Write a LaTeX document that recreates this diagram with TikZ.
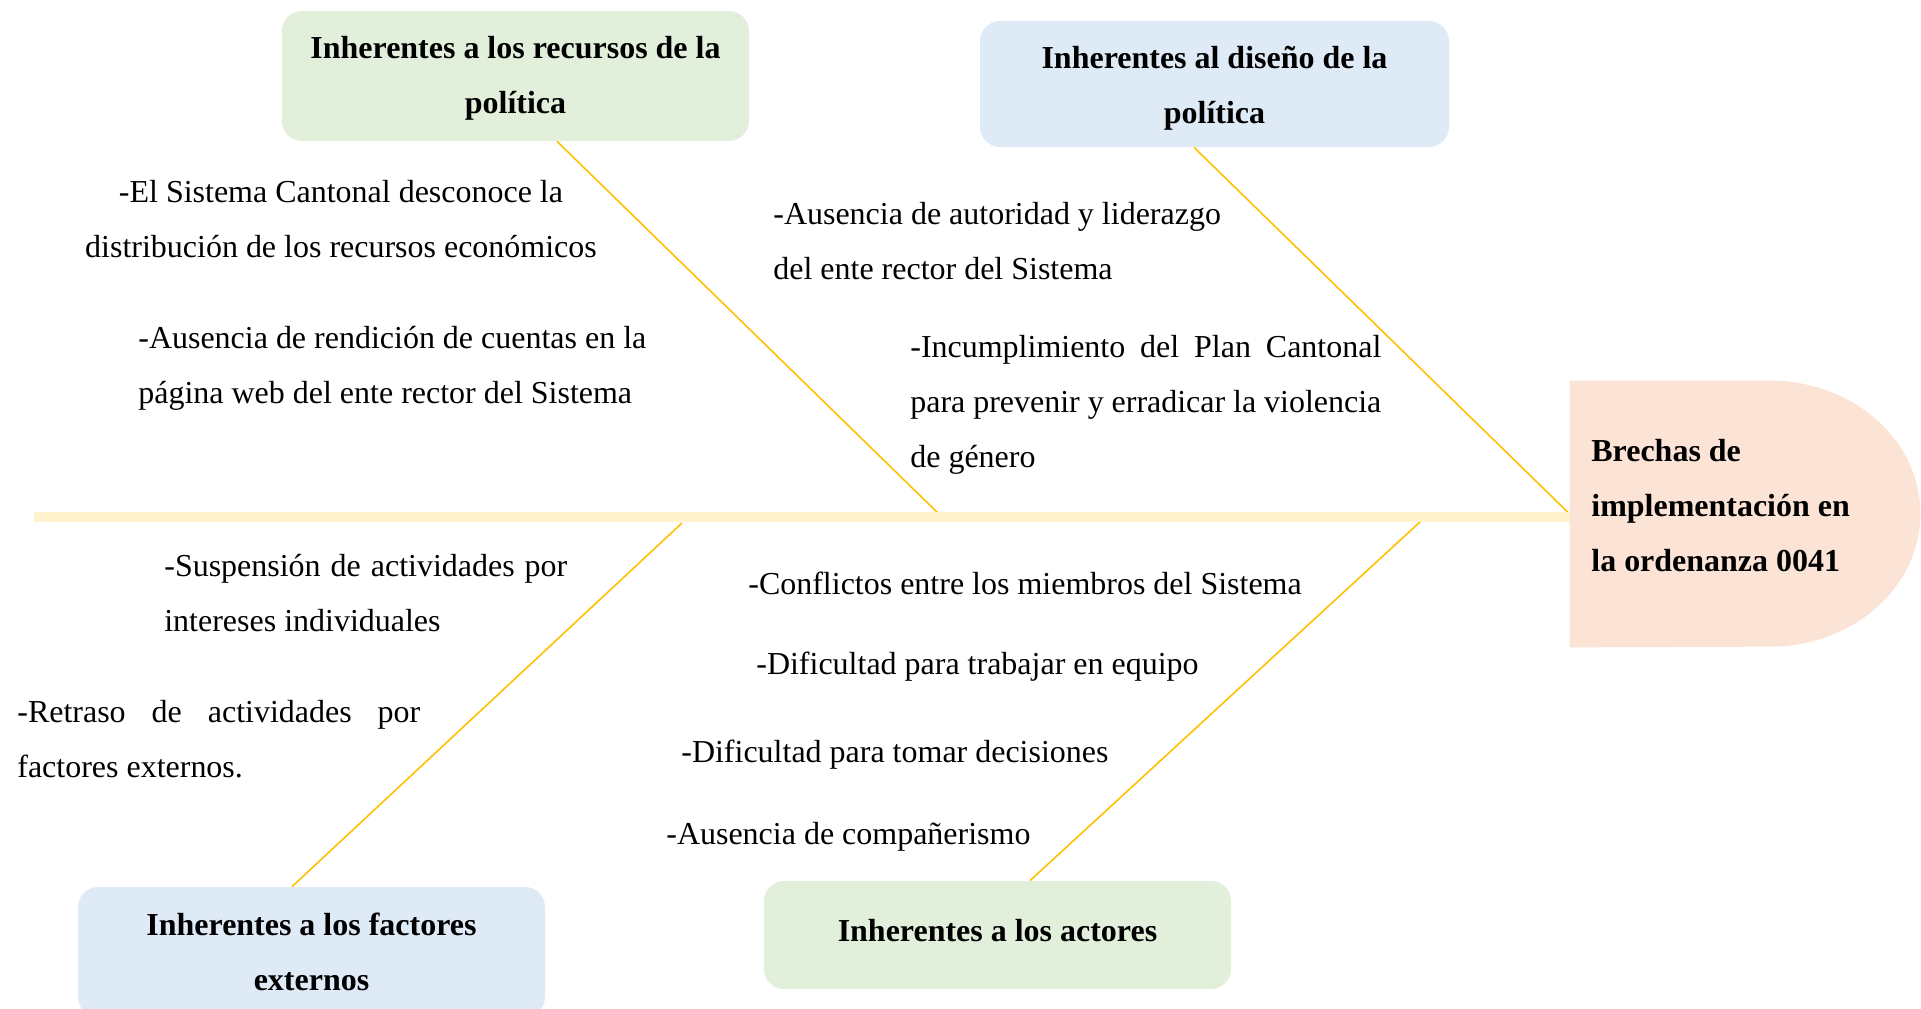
\documentclass[tikz,border=0pt]{standalone}
\usepackage{fontspec}
\setmainfont{Liberation Serif}

\definecolor{verde}{HTML}{E2EFDA}
\definecolor{azul}{HTML}{DEEAF6}
\definecolor{durazno}{HTML}{FBE4D5}
\definecolor{crema}{HTML}{FFF2CC}
\definecolor{oro}{HTML}{FFC000}

\newcommand{\letra}{\fontsize{18.2}{31.3}\selectfont}
\hyphenpenalty=10000
\exhyphenpenalty=10000
\tolerance=9999

\tikzset{
  causa/.style={rounded corners=0.4cm,align=center,minimum width=9.34cm,font=\bfseries\letra},
  nota/.style={inner sep=0pt,font=\letra},
  hueso/.style={draw=oro,line width=0.9pt},
  espina/.style={draw=crema,line width=0.2cm}
}

\begin{document}
\begin{tikzpicture}
    \useasboundingbox (0,0) rectangle (38.42,-20.18);
    % categorias
    \path (10.31,-1.52) node [causa,fill=verde,minimum height=2.6cm,text height=1.63cm]
	(recursos) {Inherentes a los recursos de la\\política};
    \path (24.29,-1.68) node [causa,fill=azul,minimum height=2.52cm,minimum width=9.38cm,text height=1.73cm]
	(diseno) {Inherentes al diseño de la\\política};
    \path (6.23,-19.04) node [causa,fill=azul,minimum height=2.6cm]
	(externos) {Inherentes a los factores\\externos};
    \path (19.95,-18.7) node [causa,fill=verde,minimum height=2.16cm,text depth=0.2cm]
	(actores) {Inherentes a los actores};
    % cabeza
    \path (33.4,-10.28) node [minimum width=4cm,minimum height=5.32cm,inner sep=0pt]
	(cabeza) {};
    \fill [durazno] (cabeza.north west) -- (cabeza.north east)
	arc [start angle=90,end angle=-90,x radius=3cm,y radius=2.66cm] -- (cabeza.south west) -- cycle;
    \path (31.82,-10.12) node [nota,font=\bfseries\letra,anchor=west,align=left]
	(brecha) {Brechas de\\implementación en\\la ordenanza 0041};
    % espina y huesos
    \coordinate (cola) at (0.68,-10.34);
    \coordinate (p1) at (18.82,-10.32);
    \coordinate (p3) at (13.64,-10.46);
    \coordinate (p4) at (28.42,-10.42);
    \draw [hueso] ([xshift=0.83cm]recursos.south) -- (p1);
    \draw [hueso] ([xshift=-0.41cm]diseno.south) -- (cabeza.west);
    \draw [hueso] ([xshift=-0.39cm]externos.north) -- (p3);
    \draw [hueso] ([xshift=0.65cm]actores.north) -- (p4);
    \draw [espina] (cola) -- (cola -| cabeza.west);
    % causas
    \path (6.82,-4.39) node [nota,align=center]
	(sistema) {-El Sistema Cantonal desconoce la\\distribución de los recursos económicos};
    \path (2.76,-7.36) node [nota,anchor=west,align=left]
	(rendicion) {-Ausencia de rendición de cuentas en la\\página web del ente rector del Sistema};
    \path (15.46,-4.82) node [nota,anchor=west,align=left]
	(autoridad) {-Ausencia de autoridad y liderazgo\\del ente rector del Sistema};
    \path (18.2,-8.09) node [nota,anchor=west,text width=9.42cm,align=justify]
	(plan) {-Incumplimiento del Plan Cantonal para prevenir y erradicar la violencia de género};
    \path (3.28,-11.87) node [nota,anchor=west,text width=8.06cm,align=justify]
	(suspension) {-Suspensión de actividades por intereses individuales};
    \path (0.34,-14.79) node [nota,anchor=west,text width=8.06cm,align=justify]
	(retraso) {-Retraso de actividades por factores externos.};
    \path (14.96,-11.66) node [nota,anchor=west]
	(conflictos) {-Conflictos entre los miembros del Sistema};
    \path (15.12,-13.33) node [nota,anchor=west]
	(equipo) {-Dificultad para trabajar en equipo};
    \path (13.62,-15.09) node [nota,anchor=west]
	(decisiones) {-Dificultad para tomar decisiones};
    \path (13.32,-16.73) node [nota,anchor=west]
	(companerismo) {-Ausencia de compañerismo};
\end{tikzpicture}
\end{document}
